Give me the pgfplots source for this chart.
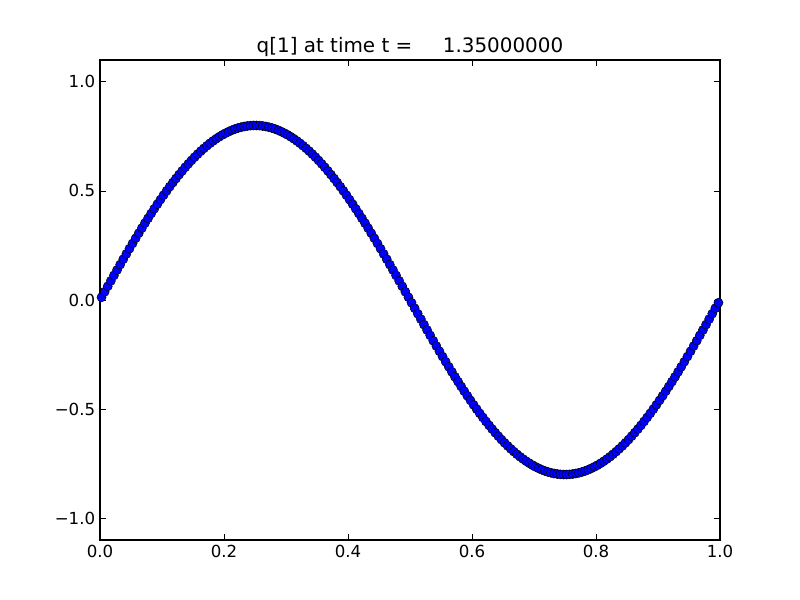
\documentclass[border=0pt]{standalone}
\usepackage{pgfplots}
\pgfplotsset{compat=1.18}
\usepackage{pgfplotstable}
\usepackage{fontspec}
\setmainfont{DejaVu Sans}
\pgfplotstableread{
x y
0.0025 0.0126
0.0075 0.0377
0.0125 0.0628
0.0175 0.0878
0.0225 0.1127
0.0275 0.1375
0.0325 0.1622
0.0375 0.1868
0.0425 0.2111
0.0475 0.2352
0.0525 0.2591
0.0575 0.2828
0.0625 0.3061
0.0675 0.3292
0.0725 0.3520
0.0775 0.3743
0.0825 0.3964
0.0875 0.4180
0.0925 0.4392
0.0975 0.4600
0.1025 0.4803
0.1075 0.5002
0.1125 0.5196
0.1175 0.5384
0.1225 0.5567
0.1275 0.5745
0.1325 0.5917
0.1375 0.6083
0.1425 0.6243
0.1475 0.6397
0.1525 0.6545
0.1575 0.6686
0.1625 0.6821
0.1675 0.6949
0.1725 0.7070
0.1775 0.7184
0.1825 0.7291
0.1875 0.7391
0.1925 0.7484
0.1975 0.7569
0.2025 0.7646
0.2075 0.7716
0.2125 0.7779
0.2175 0.7834
0.2225 0.7881
0.2275 0.7920
0.2325 0.7952
0.2375 0.7975
0.2425 0.7991
0.2475 0.7999
0.2525 0.7999
0.2575 0.7991
0.2625 0.7975
0.2675 0.7952
0.2725 0.7920
0.2775 0.7881
0.2825 0.7834
0.2875 0.7779
0.2925 0.7716
0.2975 0.7646
0.3025 0.7569
0.3075 0.7484
0.3125 0.7391
0.3175 0.7291
0.3225 0.7184
0.3275 0.7070
0.3325 0.6949
0.3375 0.6821
0.3425 0.6686
0.3475 0.6545
0.3525 0.6397
0.3575 0.6243
0.3625 0.6083
0.3675 0.5917
0.3725 0.5745
0.3775 0.5567
0.3825 0.5384
0.3875 0.5196
0.3925 0.5002
0.3975 0.4803
0.4025 0.4600
0.4075 0.4392
0.4125 0.4180
0.4175 0.3964
0.4225 0.3743
0.4275 0.3520
0.4325 0.3292
0.4375 0.3061
0.4425 0.2828
0.4475 0.2591
0.4525 0.2352
0.4575 0.2111
0.4625 0.1868
0.4675 0.1622
0.4725 0.1375
0.4775 0.1127
0.4825 0.0878
0.4875 0.0628
0.4925 0.0377
0.4975 0.0126
0.5025 -0.0126
0.5075 -0.0377
0.5125 -0.0628
0.5175 -0.0878
0.5225 -0.1127
0.5275 -0.1375
0.5325 -0.1622
0.5375 -0.1868
0.5425 -0.2111
0.5475 -0.2352
0.5525 -0.2591
0.5575 -0.2828
0.5625 -0.3061
0.5675 -0.3292
0.5725 -0.3520
0.5775 -0.3743
0.5825 -0.3964
0.5875 -0.4180
0.5925 -0.4392
0.5975 -0.4600
0.6025 -0.4803
0.6075 -0.5002
0.6125 -0.5196
0.6175 -0.5384
0.6225 -0.5567
0.6275 -0.5745
0.6325 -0.5917
0.6375 -0.6083
0.6425 -0.6243
0.6475 -0.6397
0.6525 -0.6545
0.6575 -0.6686
0.6625 -0.6821
0.6675 -0.6949
0.6725 -0.7070
0.6775 -0.7184
0.6825 -0.7291
0.6875 -0.7391
0.6925 -0.7484
0.6975 -0.7569
0.7025 -0.7646
0.7075 -0.7716
0.7125 -0.7779
0.7175 -0.7834
0.7225 -0.7881
0.7275 -0.7920
0.7325 -0.7952
0.7375 -0.7975
0.7425 -0.7991
0.7475 -0.7999
0.7525 -0.7999
0.7575 -0.7991
0.7625 -0.7975
0.7675 -0.7952
0.7725 -0.7920
0.7775 -0.7881
0.7825 -0.7834
0.7875 -0.7779
0.7925 -0.7716
0.7975 -0.7646
0.8025 -0.7569
0.8075 -0.7484
0.8125 -0.7391
0.8175 -0.7291
0.8225 -0.7184
0.8275 -0.7070
0.8325 -0.6949
0.8375 -0.6821
0.8425 -0.6686
0.8475 -0.6545
0.8525 -0.6397
0.8575 -0.6243
0.8625 -0.6083
0.8675 -0.5917
0.8725 -0.5745
0.8775 -0.5567
0.8825 -0.5384
0.8875 -0.5196
0.8925 -0.5002
0.8975 -0.4803
0.9025 -0.4600
0.9075 -0.4392
0.9125 -0.4180
0.9175 -0.3964
0.9225 -0.3743
0.9275 -0.3520
0.9325 -0.3292
0.9375 -0.3061
0.9425 -0.2828
0.9475 -0.2591
0.9525 -0.2352
0.9575 -0.2111
0.9625 -0.1868
0.9675 -0.1622
0.9725 -0.1375
0.9775 -0.1127
0.9825 -0.0878
0.9875 -0.0628
0.9925 -0.0377
0.9975 -0.0126
}\qdata
\begin{document}
\begin{tikzpicture}
\path[use as bounding box] (-1in,-0.6in) rectangle (7in,5.4in);
\begin{axis}[
  at={(0,0)}, anchor=south west,
  scale only axis, width=6.2in, height=4.8in,
  xmin=0, xmax=1, ymin=-1.1, ymax=1.1,
  xtick={0,0.2,0.4,0.6,0.8,1.0},
  xticklabels={0.0,0.2,0.4,0.6,0.8,1.0},
  ytick={-1,-0.5,0,0.5,1},
  yticklabels={−1.0,−0.5,0.0,0.5,1.0},
  tick align=inside,
  xtick pos=both, ytick pos=both,
  major tick length=4pt,
  tick style={black, line width=0.5pt},
  axis line style={line width=1pt},
  tick label style={font=\fontsize{12}{14}\selectfont},
  title={q[1] at time t =\hspace{22pt}1.35000000},
  title style={font=\fontsize{14.4}{17}\selectfont, yshift=-7pt},
]
\addplot[only marks, mark=*, mark size=3.3pt,
  mark options={fill=blue, draw=black, line width=0.35pt}] table[x=x,y=y] {\qdata};
\end{axis}
\end{tikzpicture}
\end{document}
